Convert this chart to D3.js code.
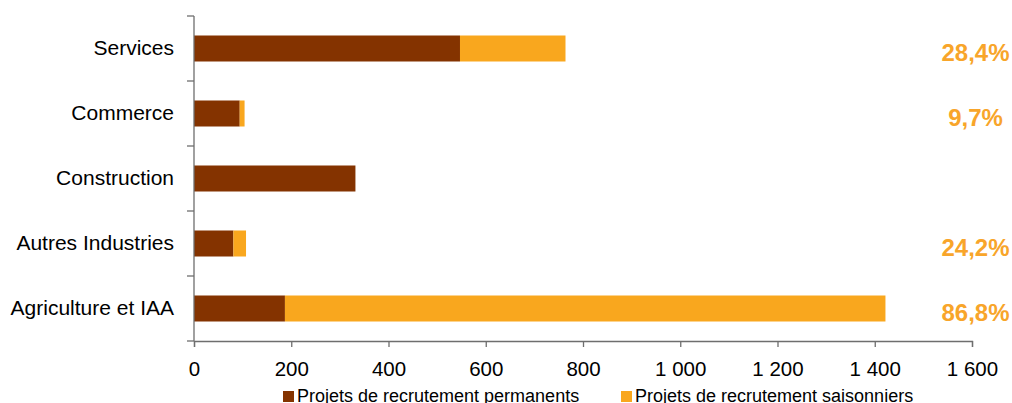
<!DOCTYPE html>
<html>
<head>
<meta charset="utf-8">
<script src="https://cdn.jsdelivr.net/npm/d3@7"></script>
<style>
    body { margin: 0; background: #fff; }
    text { font-family: "Liberation Sans", Arial, sans-serif; }
</style>
</head>
<body>
<div id="barContainer"></div>
<script>
// values
const categories = ["Services", "Commerce", "Construction", "Autres Industries", "Agriculture et IAA"];
const permanents = [547, 94, 332, 81, 187];
const saisonniers = [217, 10, 0, 26, 1235];
const shareLabels = ["28,4%", "9,7%", "", "24,2%", "86,8%"];
const xTicks = [0, 200, 400, 600, 800, 1000, 1200, 1400, 1600];
const seriesNames = ["Projets de recrutement permanents", "Projets de recrutement saisonniers"];

const colors = ["#843300", "#F9A71E"];
const width = 1012, height = 403;

const svg = d3.select("#barContainer")
    .append("svg")
    .attr("width", width)
    .attr("height", height);

const x = d3.scaleLinear()
    .domain([0, 1600])
    .range([194, 972]);

const y = d3.scaleBand()
    .domain(categories)
    .range([16, 341])
    .paddingInner(0.6)
    .paddingOuter(0.3);

// band boundaries, used for the category tick marks
const yEdge = d3.scaleLinear()
    .domain([0, categories.length])
    .range([16, 341]);

// stack the two series
const rows = categories.map((c, i) => ({ cat: c, perm: permanents[i], sais: saisonniers[i] }));
const stack = d3.stack().keys(["perm", "sais"])(rows);

svg.append("g")
    .selectAll("g")
    .data(stack)
    .enter()
    .append("g")
    .attr("fill", (d, i) => colors[i])
    .selectAll("rect")
    .data(d => d)
    .enter()
    .append("rect")
    .attr("x", d => x(d[0]))
    .attr("width", d => x(d[1]) - x(d[0]))
    .attr("y", d => y(d.data.cat))
    .attr("height", y.bandwidth());

// X axis
const fmt = v => d3.format(",")(v).replace(/,/g, " ");
const xAxis = svg.append("g")
    .attr("transform", "translate(0,341)")
    .call(d3.axisBottom(x).tickValues(xTicks).tickFormat(fmt).tickSize(6).tickPadding(14));
xAxis.selectAll("text").style("font-size", "20.5px").attr("fill", "#000");
xAxis.selectAll("line, path").attr("stroke", "#6e6e6e").attr("stroke-width", 1.3);

// Y axis: line + ticks at band edges, labels at band centres
const yAxis = svg.append("g");
yAxis.append("line")
    .attr("x1", x(0)).attr("x2", x(0))
    .attr("y1", yEdge(0)).attr("y2", yEdge(categories.length))
    .attr("stroke", "#6e6e6e").attr("stroke-width", 1.3);
yAxis.selectAll(".ytick")
    .data(d3.range(categories.length + 1))
    .enter()
    .append("line")
    .attr("x1", x(0) - 7).attr("x2", x(0))
    .attr("y1", d => yEdge(d)).attr("y2", d => yEdge(d))
    .attr("stroke", "#6e6e6e").attr("stroke-width", 1.3);
yAxis.selectAll(".ylabel")
    .data(categories)
    .enter()
    .append("text")
    .attr("x", x(0) - 20)
    .attr("y", d => y(d) + y.bandwidth() / 2)
    .attr("dy", "0.32em")
    .attr("text-anchor", "end")
    .style("font-size", "21px")
    .text(d => d);

// share of seasonal projects
svg.selectAll(".share")
    .data(shareLabels)
    .enter()
    .append("text")
    .attr("x", 975.5)
    .attr("y", (d, i) => y(categories[i]) + y.bandwidth() / 2 + 12)
    .attr("text-anchor", "middle")
    .attr("fill", "#F8A52A")
    .style("font-size", "24px")
    .style("font-weight", "bold")
    .text(d => d);

// legend
const legendX = [283, 621];
seriesNames.forEach((name, i) => {
    svg.append("rect")
        .attr("x", legendX[i]).attr("y", 391)
        .attr("width", 11).attr("height", 11)
        .attr("fill", colors[i]);
    svg.append("text")
        .attr("x", legendX[i] + 14).attr("y", 402)
        .style("font-size", "18px")
        .text(name);
});
</script>
</body>
</html>
